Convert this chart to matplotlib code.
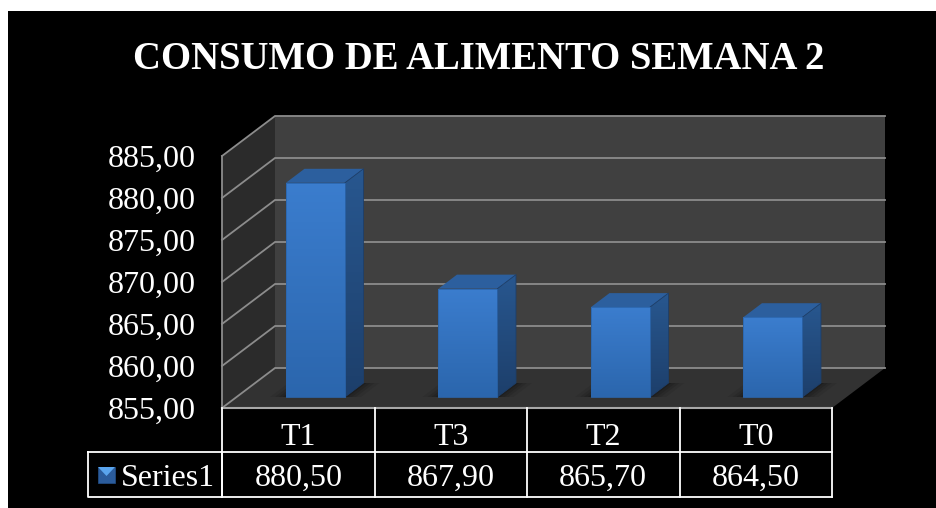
import numpy as np
import matplotlib
matplotlib.use("Agg")
import matplotlib.pyplot as plt
from matplotlib.colors import LinearSegmentedColormap
from matplotlib.patches import Polygon
from matplotlib.transforms import blended_transform_factory

categories = ["T1", "T3", "T2", "T0"]
values = [880.50, 867.90, 865.70, 864.50]
y_ticks = [855, 860, 865, 870, 875, 880, 885]
series_name = "Series1"
title = "CONSUMO DE ALIMENTO SEMANA 2"

W, H = 936, 508
plt.rcParams["font.family"] = ["Liberation Serif", "DejaVu Serif"]

# front plane of the fake 3D box, in pixels
LEFT, RIGHT, TOP, BOTTOM = 222, 832, 156, 408
DEPTH_X, DEPTH_Y = 53, 40
GRID = "#8c8c8c"


def fmt(v):
    return f"{v:.2f}".replace(".", ",")


fig = plt.figure(figsize=(W / 100, H / 100), dpi=100, facecolor="white")

# pixel axes for the black panel, table lines and legend key
bg = fig.add_axes([0, 0, 1, 1])
bg.set_xlim(0, W)
bg.set_ylim(H, 0)
bg.axis("off")
bg.add_patch(plt.Rectangle((8, 11), W - 8, H - 11, color="black", lw=0))

ax = fig.add_axes([LEFT / W, 1 - BOTTOM / H, (RIGHT - LEFT) / W, (BOTTOM - TOP) / H])
ax.patch.set_visible(False)
ax.set_xlim(0, len(categories))
ax.set_ylim(y_ticks[0], y_ticks[-1])

x_per_px = len(categories) / (RIGHT - LEFT)
y_per_px = (y_ticks[-1] - y_ticks[0]) / (BOTTOM - TOP)


def pt(x, y, depth=0.0):
    # data position pushed back into the box
    return (x + depth * DEPTH_X * x_per_px, y + depth * DEPTH_Y * y_per_px)


def poly(points, color, z, **kw):
    ax.add_patch(Polygon(points, closed=True, facecolor=color, edgecolor="none",
                         clip_on=False, zorder=z, **kw))


def gradient_poly(points, top_color, bottom_color, z):
    # vertical gradient clipped to a rounded polygon
    cmap = LinearSegmentedColormap.from_list("g", [top_color, bottom_color])
    xs = [p[0] for p in points]
    ys = [p[1] for p in points]
    im = ax.imshow(np.linspace(0, 1, 64).reshape(-1, 1), cmap=cmap, aspect="auto",
                   extent=[min(xs), max(xs), min(ys), max(ys)], zorder=z, clip_on=True)
    clip = Polygon(points, closed=True, transform=ax.transData, facecolor="none",
                   edgecolor="none", joinstyle="round")
    ax.add_patch(clip)
    im.set_clip_path(clip)
    ax.add_patch(Polygon(points, closed=True, facecolor="none", edgecolor=bottom_color,
                         lw=0.6, joinstyle="round", clip_on=False, zorder=z + 0.1))


xmax = len(categories)
ymin, ymax = y_ticks[0], y_ticks[-1]

# walls and floor
poly([pt(0, ymin), pt(0, ymax), pt(0, ymax, 1), pt(0, ymin, 1)], "#2b2b2b", 1)
poly([pt(0, ymin, 1), pt(0, ymax, 1), pt(xmax, ymax, 1), pt(xmax, ymin, 1)], "#404040", 1)
poly([pt(0, ymin), pt(0, ymin, 1), pt(xmax, ymin, 1), pt(xmax, ymin)], "#323232", 1)

for t in y_ticks:
    xs, ys = zip(pt(0, t), pt(0, t, 1), pt(xmax, t, 1))
    ax.plot(xs, ys, color=GRID, lw=1.3, clip_on=False, zorder=2, solid_joinstyle="miter")
ax.plot(*zip(pt(0, ymin), pt(0, ymax)), color=GRID, lw=1.3, clip_on=False, zorder=2)
ax.plot(*zip(pt(0, ymin), pt(xmax, ymin)), color="#a8a8a8", lw=1.5, clip_on=False, zorder=2)

# bars
bar_w = 59 * x_per_px
d0, d1 = 0.275, 0.625
nudge = 2.6 * x_per_px
for i, v in enumerate(values):
    x0 = i + 0.5 - bar_w / 2 + nudge
    x1 = x0 + bar_w
    # soft floor shadow
    for grow, alpha in [(16, 0.08), (11, 0.10), (7, 0.12), (3, 0.16)]:
        g = grow * x_per_px
        poly([pt(x0 - g, ymin, d0), pt(x1 + g, ymin, d0), pt(x1 + g, ymin, d1),
              pt(x0 - g, ymin, d1)], "black", 3, alpha=alpha)
    poly([pt(x0, v, d0), pt(x0, v, d1), pt(x1, v, d1), pt(x1, v, d0)], "#2c5f9e", 4)
    gradient_poly([pt(x1, ymin, d0), pt(x1, v, d0), pt(x1, v, d1), pt(x1, ymin, d1)],
                  "#28578f", "#1d3f6b", 4)
    gradient_poly([pt(x0, ymin, d0), pt(x0, v, d0), pt(x1, v, d0), pt(x1, ymin, d0)],
                  "#3b7dce", "#2b66ad", 5)

ax.set_xlim(0, xmax)
ax.set_ylim(ymin, ymax)

# y axis
ax.set_xticks([])
ax.set_yticks(y_ticks)
ax.set_yticklabels([fmt(t) for t in y_ticks], color="white", fontsize=23, va="center_baseline")
ax.tick_params(axis="y", length=0, pad=19)
for s in ax.spines.values():
    s.set_visible(False)

# data table
cols = np.arange(len(categories) + 1)
trans = blended_transform_factory(ax.transData, bg.transData)
ROW0, ROW1, ROW2 = 408, 452, 497
for c in cols:
    ax.plot([c, c], [ROW0, ROW2], color="white", lw=1.3, transform=trans, clip_on=False, zorder=6)
ax.plot([0, xmax], [ROW1, ROW1], color="white", lw=1.3, transform=trans, clip_on=False, zorder=6)
ax.plot([0, xmax], [ROW2, ROW2], color="white", lw=1.3, transform=trans, clip_on=False, zorder=6)
for i, (c, v) in enumerate(zip(categories, values)):
    ax.text(i + 0.5, 434, c, transform=trans, color="white", fontsize=23,
            ha="center", va="center_baseline", clip_on=False)
    ax.text(i + 0.5, 475, fmt(v), transform=trans, color="white", fontsize=23,
            ha="center", va="center_baseline", clip_on=False)

# legend cell
bg.plot([88, 88, LEFT, LEFT, 88], [ROW1, ROW2, ROW2, ROW1, ROW1], color="white", lw=1.3)
bg.text(121, 475, series_name, color="white", fontsize=23, ha="left", va="center_baseline")
bg.add_patch(plt.Rectangle((98, 467), 17, 16, facecolor="#2b5c9c", edgecolor="#23508a", lw=0.5))
bg.add_patch(Polygon([(98, 467), (115, 467), (106.5, 476)], closed=True, facecolor="#5aa5ee", edgecolor="none"))

bg.text(479, 55, title, color="white", fontsize=27.9, fontweight="bold", ha="center", va="center_baseline")

fig.savefig("out.png", dpi=100, facecolor="white")
